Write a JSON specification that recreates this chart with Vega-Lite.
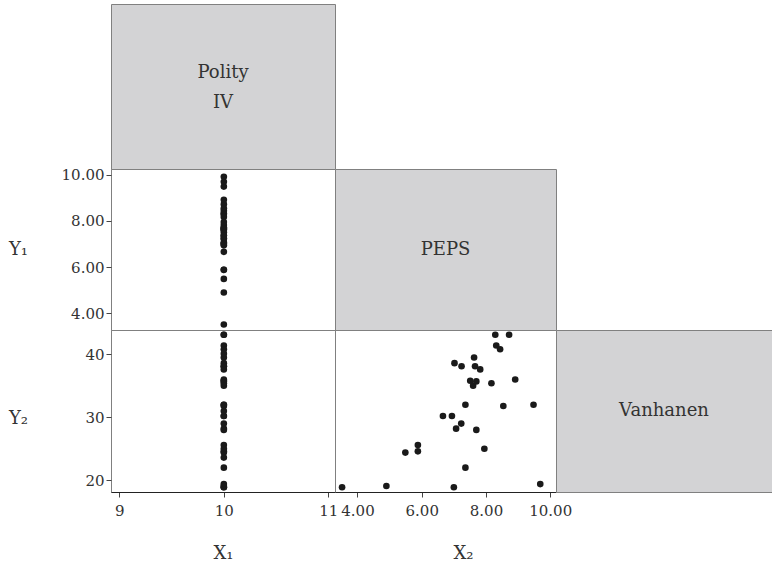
{
  "$schema": "https://vega.github.io/schema/vega-lite/v6.json",
  "padding": {"left": 7, "top": 3, "right": 0, "bottom": 0},
  "background": "white",
  "columns": 3,
  "spacing": 0,
  "bounds": "flush",
  "align": "each",
  "datasets": {
    "countries": [
      {"polity": 10, "peps": 8.29, "vanhanen": 43.1},
      {"polity": 10, "peps": 8.72, "vanhanen": 43.1},
      {"polity": 10, "peps": 8.32, "vanhanen": 41.4},
      {"polity": 10, "peps": 8.44, "vanhanen": 40.8},
      {"polity": 10, "peps": 7.63, "vanhanen": 39.5},
      {"polity": 10, "peps": 7.02, "vanhanen": 38.6},
      {"polity": 10, "peps": 7.24, "vanhanen": 38.1},
      {"polity": 10, "peps": 7.66, "vanhanen": 38.1},
      {"polity": 10, "peps": 7.82, "vanhanen": 37.6},
      {"polity": 10, "peps": 7.51, "vanhanen": 35.8},
      {"polity": 10, "peps": 7.70, "vanhanen": 35.7},
      {"polity": 10, "peps": 7.60, "vanhanen": 35.0},
      {"polity": 10, "peps": 8.17, "vanhanen": 35.4},
      {"polity": 10, "peps": 8.91, "vanhanen": 36.0},
      {"polity": 10, "peps": 7.36, "vanhanen": 32.0},
      {"polity": 10, "peps": 8.54, "vanhanen": 31.8},
      {"polity": 10, "peps": 9.48, "vanhanen": 32.0},
      {"polity": 10, "peps": 6.66, "vanhanen": 30.2},
      {"polity": 10, "peps": 6.94, "vanhanen": 30.2},
      {"polity": 10, "peps": 7.23, "vanhanen": 29.0},
      {"polity": 10, "peps": 7.07, "vanhanen": 28.2},
      {"polity": 10, "peps": 7.70, "vanhanen": 28.0},
      {"polity": 10, "peps": 5.88, "vanhanen": 25.6},
      {"polity": 10, "peps": 5.88, "vanhanen": 24.6},
      {"polity": 10, "peps": 5.49, "vanhanen": 24.4},
      {"polity": 10, "peps": 7.95, "vanhanen": 25.0},
      {"polity": 10, "peps": 7.36, "vanhanen": 22.0},
      {"polity": 10, "peps": 3.52, "vanhanen": 18.9},
      {"polity": 10, "peps": 4.90, "vanhanen": 19.1},
      {"polity": 10, "peps": 7.00, "vanhanen": 18.9},
      {"polity": 10, "peps": 9.69, "vanhanen": 19.4},
      {"polity": 10, "peps": 9.90, "vanhanen": null},
      {"polity": 10, "peps": null, "vanhanen": 23.6},
      {"polity": 10, "peps": null, "vanhanen": 31.0},
      {"polity": 10, "peps": null, "vanhanen": 40.1}
    ]
  },
  "config": {
    "font": "DejaVu Serif",
    "view": {"stroke": "#808080", "strokeWidth": 1},
    "axis": {
      "grid": false,
      "labelFont": "DejaVu Serif",
      "labelFontSize": 15,
      "labelColor": "#333333",
      "tickColor": "#444444",
      "tickSize": 5,
      "titleFont": "DejaVu Serif",
      "titleFontSize": 18,
      "titleFontWeight": "normal",
      "titleColor": "#333333",
      "labelFlush": false,
      "labelOverlap": false,
      "domainColor": "#222222"
    },
    "text": {"font": "DejaVu Serif", "fontSize": 18, "color": "#333333"}
  },
  "concat": [
    {
      "data": {"values": [{"name": "Polity\nIV"}]},
      "mark": {"type": "text", "lineBreak": "\n", "lineHeight": 30, "baseline": "middle", "align": "center", "dy": -14},
      "encoding": {"text": {"field": "name"}},
      "width": 224, "height": 165,
      "view": {"fill": "#d3d3d5", "stroke": "#808080"}
    },
    {
      "data": {"values": []},
      "mark": "point",
      "width": 221, "height": 165,
      "view": {"stroke": null}
    },
    {
      "data": {"values": []},
      "mark": "point",
      "width": 216, "height": 165,
      "view": {"stroke": null}
    },
    {
      "data": {"name": "countries"},
      "mark": {"type": "point", "filled": true, "size": 44, "color": "#1a1a1a", "opacity": 1},
      "encoding": {
        "x": {"field": "polity", "type": "quantitative", "scale": {"domain": [8.92, 11.064], "nice": false, "zero": false}, "axis": null},
        "y": {"field": "peps", "type": "quantitative", "scale": {"domain": [3.28, 10.24], "nice": false, "zero": false},
              "axis": {"values": [4, 6, 8, 10], "format": ".2f", "title": "Y₁", "titleAngle": 0, "titleX": -93, "titleY": 80, "titleAlign": "center", "titleBaseline": "middle", "domain": false, "labelPadding": 2}}
      },
      "width": 224, "height": 161
    },
    {
      "data": {"values": [{"name": "PEPS"}]},
      "mark": {"type": "text", "baseline": "middle", "align": "center"},
      "encoding": {"text": {"field": "name"}},
      "width": 221, "height": 161,
      "view": {"fill": "#d3d3d5", "stroke": "#808080"}
    },
    {
      "data": {"values": []},
      "mark": "point",
      "width": 216, "height": 161,
      "view": {"stroke": null}
    },
    {
      "data": {"name": "countries"},
      "mark": {"type": "point", "filled": true, "size": 44, "color": "#1a1a1a", "opacity": 1},
      "encoding": {
        "x": {"field": "polity", "type": "quantitative", "scale": {"domain": [8.92, 11.064], "nice": false, "zero": false},
              "axis": {"values": [9, 10, 11], "format": "d", "title": "X₁", "titleY": 61, "titleBaseline": "middle", "labelPadding": 6}},
        "y": {"field": "vanhanen", "type": "quantitative", "scale": {"domain": [18.14, 43.86], "nice": false, "zero": false},
              "axis": {"values": [20, 30, 40], "format": "d", "title": "Y₂", "titleAngle": 0, "titleX": -93, "titleY": 88, "titleAlign": "center", "titleBaseline": "middle", "domain": false, "labelPadding": 2}}
      },
      "width": 224, "height": 162
    },
    {
      "data": {"name": "countries"},
      "mark": {"type": "point", "filled": true, "size": 44, "color": "#1a1a1a", "opacity": 1},
      "encoding": {
        "x": {"field": "peps", "type": "quantitative", "scale": {"domain": [3.30, 10.18], "nice": false, "zero": false},
              "axis": {"values": [4, 6, 8, 10], "format": ".2f", "title": "X₂", "titleX": 128, "titleY": 61, "titleBaseline": "middle", "labelPadding": 6}},
        "y": {"field": "vanhanen", "type": "quantitative", "scale": {"domain": [18.14, 43.86], "nice": false, "zero": false}, "axis": null}
      },
      "width": 221, "height": 162
    },
    {
      "data": {"values": [{"name": "Vanhanen"}]},
      "mark": {"type": "text", "baseline": "middle", "align": "center"},
      "encoding": {"text": {"field": "name"}},
      "width": 216, "height": 162,
      "view": {"fill": "#d3d3d5", "stroke": "#808080"}
    }
  ]
}
